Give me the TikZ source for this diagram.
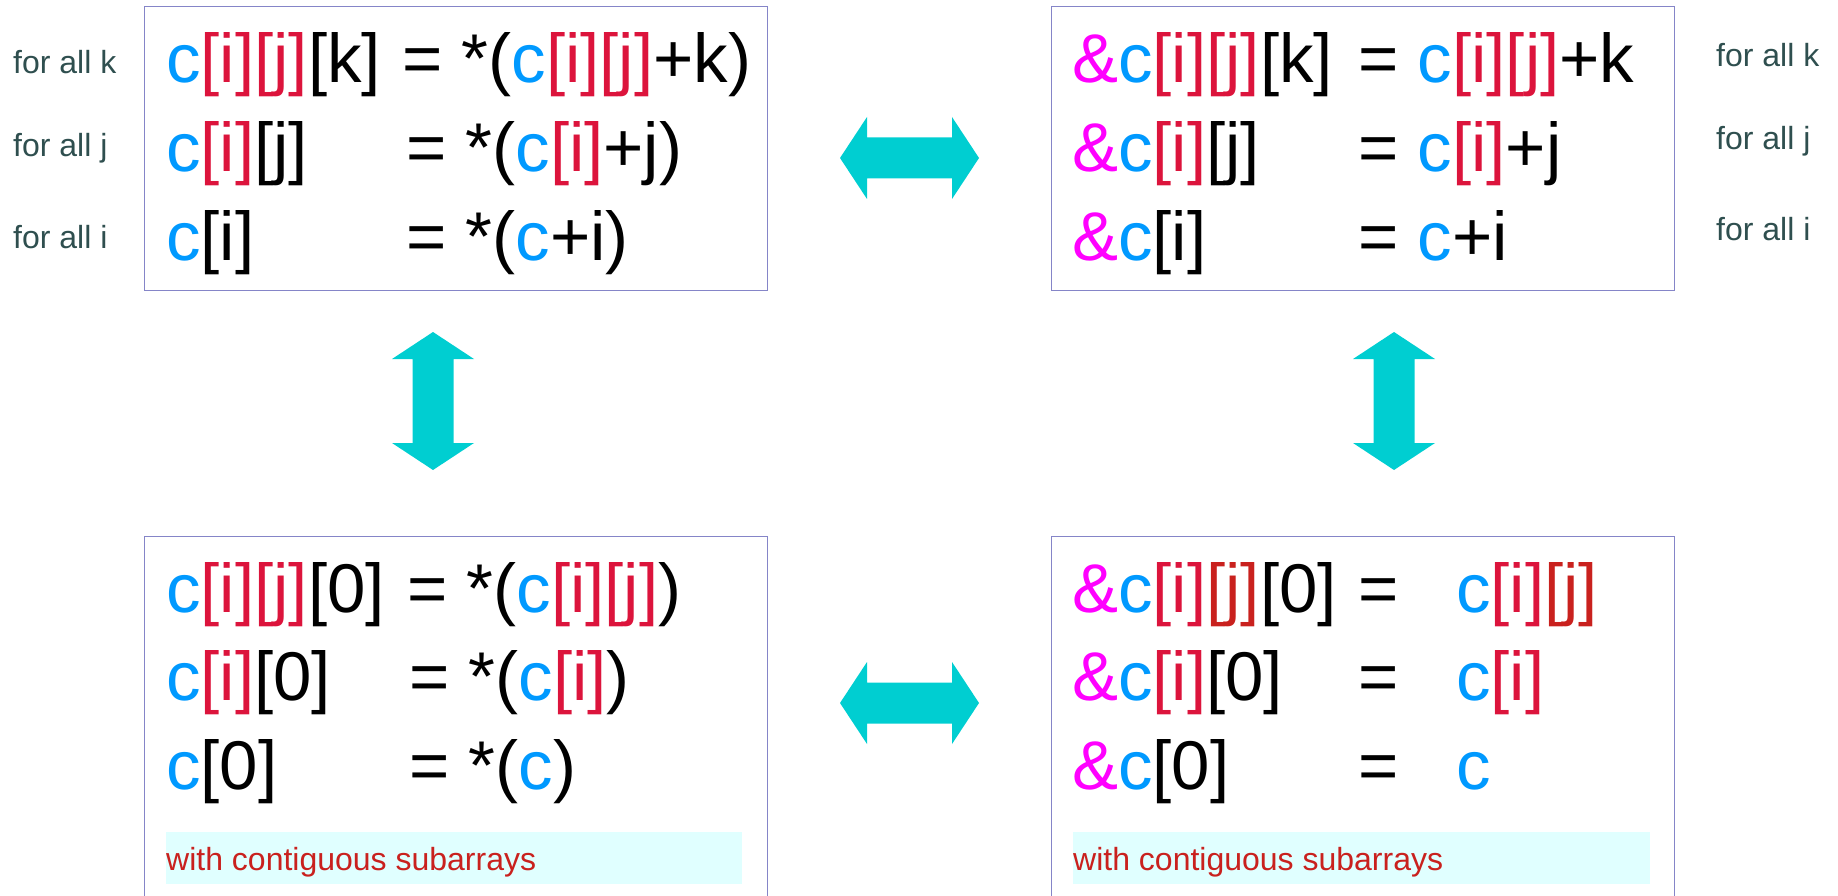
\documentclass[tikz,border=0pt]{standalone}
\usepackage{fontspec}
\setmainfont{Liberation Sans}
\definecolor{cblue}{HTML}{0099FF}
\definecolor{ired}{HTML}{DC143C}
\definecolor{jred}{HTML}{C9211E}
\definecolor{amp}{HTML}{FF00FF}
\definecolor{lbl}{HTML}{2F4F4F}
\definecolor{boxline}{HTML}{8585C8}
\definecolor{arrowc}{HTML}{00CED1}
\definecolor{hl}{HTML}{E0FFFF}
\definecolor{hltext}{HTML}{C9211E}
\newcommand{\cc}{\textcolor{cblue}{c}}
\newcommand{\ii}{\textcolor{ired}{[i]}}
\newcommand{\jj}{\textcolor{ired}{[j]}}
\newcommand{\jd}{\textcolor{jred}{[j]}}
\newcommand{\am}{\textcolor{amp}{\&}}
\tikzset{
  big/.style={anchor=base west, inner sep=0pt, font=\fontsize{69}{83}\selectfont},
  lab/.style={anchor=base west, inner sep=0pt, text=lbl, font=\fontsize{32}{38}\selectfont},
  framebox/.style={draw=boxline, line width=1pt},
  hlbox/.style={fill=hl, draw=none},
  hltxt/.style={anchor=base west, inner sep=0pt, text=hltext, font=\fontsize{32}{38}\selectfont},
  arr/.style={fill=arrowc, draw=none}
}
\begin{document}
\begin{tikzpicture}[x=1pt,y=-1pt]
\useasboundingbox (0,0) rectangle (1838,896);
% boxes
\draw[framebox] (144,7) rectangle (767,290);
\draw[framebox] (1051,7) rectangle (1674,290);
\draw[framebox] (144,905) -- (144,536) -- (767,536) -- (767,905);
\draw[framebox] (1051,905) -- (1051,536) -- (1674,536) -- (1674,905);
% highlight boxes
\fill[hlbox] (166,832) rectangle (742,884);
\fill[hlbox] (1073,832) rectangle (1650,884);
\node[hltxt] (hl1) at (166,870) {with contiguous subarrays};
\node[hltxt] (hl2) at (1073,870) {with contiguous subarrays};
% top-left
\node[big] (tl1a) at (166,83) {\cc\ii\jj[k]};
\node[big] (tl1b) at (402,83) {= *(\cc\ii\jj+k)};
\node[big] (tl2a) at (166,172) {\cc\ii[j]};
\node[big] (tl2b) at (406,172) {= *(\cc\ii+j)};
\node[big] (tl3a) at (166,260) {\cc[i]};
\node[big] (tl3b) at (406,260) {= *(\cc+i)};
% left labels
\node[lab] (lk) at (13,74) {for all k};
\node[lab] (lj) at (13,157) {for all j};
\node[lab] (li) at (13,248) {for all i};
% top-right
\node[big] (tr1a) at (1072,83) {\am\cc\ii\jj[k]};
\node[big] (tr1b) at (1358,83) {= \cc\ii\jj+k};
\node[big] (tr2a) at (1072,172) {\am\cc\ii[j]};
\node[big] (tr2b) at (1358,172) {= \cc\ii+j};
\node[big] (tr3a) at (1072,260) {\am\cc[i]};
\node[big] (tr3b) at (1358,260) {= \cc+i};
% right labels
\node[lab] (rk) at (1716,67) {for all k};
\node[lab] (rj) at (1716,150) {for all j};
\node[lab] (ri) at (1716,240) {for all i};
% bottom-left
\node[big] (bl1a) at (166,612) {\cc\ii\jj[0]};
\node[big] (bl1b) at (407,612) {= *(\cc\ii\jj)};
\node[big] (bl2a) at (166,700) {\cc\ii[0]};
\node[big] (bl2b) at (409,700) {= *(\cc\ii)};
\node[big] (bl3a) at (166,789) {\cc[0]};
\node[big] (bl3b) at (409,789) {= *(\cc)};
% bottom-right
\node[big] (br1a) at (1072,612) {\am\cc\ii\jd[0]};
\node[big] (br1e) at (1358,612) {=};
\node[big] (br1b) at (1456,612) {\cc\ii\jd};
\node[big] (br2a) at (1072,700) {\am\cc\ii[0]};
\node[big] (br2e) at (1358,700) {=};
\node[big] (br2b) at (1456,700) {\cc\ii};
\node[big] (br3a) at (1072,789) {\am\cc[0]};
\node[big] (br3e) at (1358,789) {=};
\node[big] (br3b) at (1456,789) {\cc};
% horizontal double arrows
\fill[arr] (840,158) -- (867,117) -- (867,137.5) -- (952,137.5) -- (952,117) -- (979,158)
  -- (952,199) -- (952,178.5) -- (867,178.5) -- (867,199) -- cycle;
\fill[arr] (840,703) -- (867,662) -- (867,682.5) -- (952,682.5) -- (952,662) -- (979,703)
  -- (952,744) -- (952,723.5) -- (867,723.5) -- (867,744) -- cycle;
% vertical double arrows
\fill[arr] (433,332) -- (474,359) -- (453.5,359) -- (453.5,443) -- (474,443) -- (433,470)
  -- (392,443) -- (412.5,443) -- (412.5,359) -- (392,359) -- cycle;
\fill[arr] (1394,332) -- (1435,359) -- (1414.5,359) -- (1414.5,443) -- (1435,443) -- (1394,470)
  -- (1353,443) -- (1373.5,443) -- (1373.5,359) -- (1353,359) -- cycle;
\end{tikzpicture}
\end{document}
